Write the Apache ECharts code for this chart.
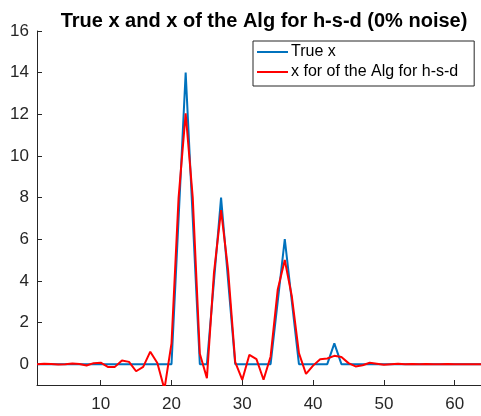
<!DOCTYPE html>
<html>
<head>
<meta charset="utf-8">
<script src="https://cdn.jsdelivr.net/npm/echarts@6/dist/echarts.min.js"></script>
<style>
  html, body { margin: 0; padding: 0; background: #fff; }
  #chart { width: 481px; height: 416px; }
</style>
</head>
<body>
<div id="chart"></div>
<script>
// sample index 1..64
const xIdx = [];
for (let i = 1; i <= 64; i++) xIdx.push(i);

const trueX = [
    0, 0, 0, 0, 0, 0, 0, 0, 0, 0,
    0, 0, 0, 0, 0, 0, 0, 0, 0, 0,
    7, 14, 7, 0, 0, 4, 8, 4, 0, 0,
    0, 0, 0, 0, 3, 6, 3, 0, 0, 0,
    0, 0, 1, 0, 0, 0, 0, 0, 0, 0,
    0, 0, 0, 0, 0, 0, 0, 0, 0, 0,
    0, 0, 0, 0
];

const algX = [
    0, 0.02, 0.01, -0.02, 0, 0.03, 0.01, -0.06, 0.05, 0.07,
    -0.13, -0.13, 0.18, 0.11, -0.34, -0.13, 0.6, 0.06, -1.2, 1.0,
    8, 12.05, 8, 0.5, -0.67, 4.4, 7.4, 4.5, 0.1, -0.75,
    0.45, 0.24, -0.75, 0.37, 3.57, 5.0, 3.25, 0.53, -0.47, -0.07,
    0.24, 0.27, 0.4, 0.34, 0.05, -0.11, -0.05, 0.07, 0.02, -0.03,
    0, 0.02, 0, 0.01, 0, 0.01, 0, 0, 0.01, 0,
    0, 0, 0, 0
];

const xTicks = [10, 20, 30, 40, 50, 60];
const yTicks = [0, 2, 4, 6, 8, 10, 12, 14, 16];

function pairs(ys) {
    return xIdx.map(function (x, i) { return [x, ys[i]]; });
}

const axisColor = '#262626';
const chart = echarts.init(document.getElementById('chart'));

chart.setOption({
    animation: false,
    title: {
        text: 'True x and x of the Alg for h-s-d (0% noise)',
        left: 259,
        top: 6,
        textAlign: 'center',
        textStyle: {
            fontFamily: 'Liberation Sans',
            fontSize: 20,
            fontWeight: 'bold',
            color: '#000'
        }
    },
    legend: {
        orient: 'vertical',
        left: 253,
        top: 41,
        backgroundColor: '#fff',
        borderColor: axisColor,
        borderWidth: 1,
        borderRadius: 0,
        padding: [3, 16, 6, 4],
        itemGap: 4,
        itemWidth: 31,
        itemHeight: 2,
        icon: 'rect',
        textStyle: {
            fontFamily: 'Liberation Sans',
            fontSize: 16,
            color: '#000',
            padding: [0, 0, 0, -2]
        },
        data: ['True x', 'x for of the Alg for h-s-d']
    },
    grid: {
        left: 37,
        right: -2,
        top: 31,
        bottom: 31,
        outerBoundsMode: 'none'
    },
    xAxis: {
        type: 'value',
        min: 1,
        max: 64,
        axisLine: { show: true, onZero: false, lineStyle: { color: axisColor, width: 1 } },
        axisTick: { show: true, inside: true, length: 5, customValues: xTicks, lineStyle: { color: axisColor } },
        axisLabel: {
            customValues: xTicks,
            margin: 11,
            fontFamily: 'Liberation Sans',
            fontSize: 17,
            color: axisColor
        },
        splitLine: { show: false }
    },
    yAxis: {
        type: 'value',
        min: -1,
        max: 16,
        axisLine: { show: true, lineStyle: { color: axisColor, width: 1 } },
        axisTick: { show: true, inside: true, length: 5, customValues: yTicks, lineStyle: { color: axisColor } },
        axisLabel: {
            customValues: yTicks,
            margin: 8,
            fontFamily: 'Liberation Sans',
            fontSize: 17,
            color: axisColor
        },
        splitLine: { show: false }
    },
    series: [
        {
            name: 'True x',
            type: 'line',
            data: pairs(trueX),
            showSymbol: false,
            lineStyle: { color: '#0072BD', width: 2 },
            itemStyle: { color: '#0072BD' }
        },
        {
            name: 'x for of the Alg for h-s-d',
            type: 'line',
            data: pairs(algX),
            showSymbol: false,
            lineStyle: { color: '#FF0000', width: 2 },
            itemStyle: { color: '#FF0000' }
        }
    ]
});
</script>
</body>
</html>
